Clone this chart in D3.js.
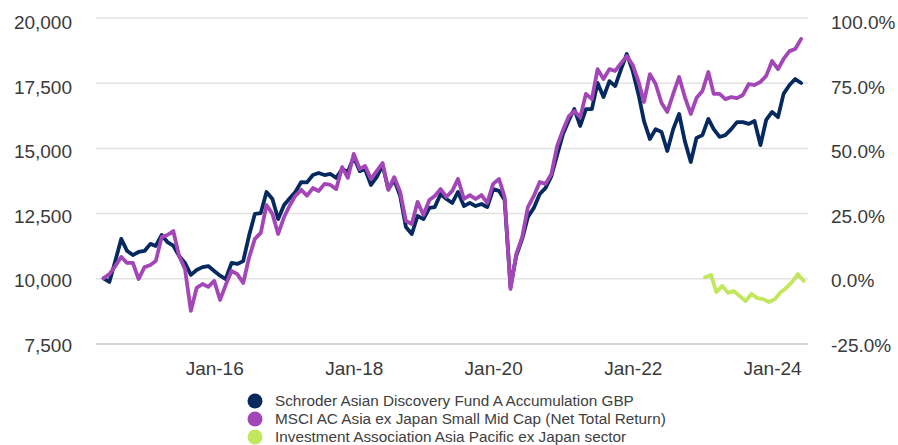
<!DOCTYPE html>
<html lang="en">
<head>
<meta charset="UTF-8">
<title>Performance</title>
<script src="https://cdnjs.cloudflare.com/ajax/libs/d3/7.8.5/d3.min.js"></script>
<style>
    body { margin: 0; background: #fff; }
    svg text { font-family: "Liberation Sans", Arial, sans-serif; }
    .grid line { stroke: #e2e2e2; stroke-width: 1.5px; }
    .axis text { fill: #3a3a3a; font-size: 19px; }
    .legend text { fill: #404040; font-size: 15.3px; }
</style>
</head>
<body>
<svg id="chart" width="898" height="445"></svg>
<script>
// monthly values, first point = June 2014
const startMonth = "2014-06-01";
const fundValues = [
    10000, 9860, 10660, 11510, 11060, 10890, 11010, 11050, 11320, 11240,
    11660, 11390, 11250, 10860, 10590, 10130, 10320, 10430, 10470, 10280,
    10100, 9970, 10590, 10550, 10660, 11620, 12470, 12500, 13310, 13040,
    12270, 12810, 13080, 13310, 13690, 13680, 13960, 14040, 13960, 14000,
    13850, 14190, 14080, 14650, 14110, 14190, 13580, 13880, 14340, 13420,
    13770, 13160, 11970, 11700, 12390, 12270, 12700, 12730, 13230, 13040,
    12890, 13310, 12770, 12890, 12770, 12850, 12730, 13420, 13350, 13000,
    9670, 10860, 11510, 12350, 12700, 13230, 13460, 13920, 14730, 15530,
    16070, 16490, 15840, 16490, 16490, 17490, 16950, 17560, 17370, 18020,
    18600, 17950, 17030, 16030, 15340, 15720, 15610, 14880, 15720, 16300,
    15260, 14460, 15380, 15490, 16110, 15720, 15420, 15490, 15720, 15990,
    15990, 15920, 16030, 15110, 16070, 16380, 16180, 17070, 17410, 17640,
    17490
];
const indexValues = [
    10000, 10160, 10470, 10820, 10590, 10590, 9970, 10430, 10510, 10660,
    11580, 11660, 11810, 10860, 10360, 8750, 9630, 9780, 9670, 9900,
    9170, 9740, 10280, 10160, 9820, 10780, 11510, 11740, 12810, 12470,
    11700, 12350, 12810, 13160, 13390, 13170, 13460, 13350, 13620, 13580,
    13420, 14260, 13850, 14770, 14190, 14310, 13810, 14110, 14420, 13390,
    13880, 13310, 12200, 12080, 12930, 12430, 13000, 13160, 13420, 13120,
    13350, 13810, 13040, 13190, 13040, 13190, 12890, 13620, 13810, 13120,
    9590, 10930, 11580, 12730, 13160, 13690, 13620, 14000, 15070, 15690,
    16220, 16410, 16180, 17070, 16870, 18020, 17640, 18020, 17950, 18250,
    18520, 18180, 17530, 16760, 17830, 17450, 16720, 16380, 17070, 17720,
    16950, 16300, 16910, 17180, 17910, 17070, 17070, 16870, 16950, 16910,
    17030, 17450, 17410, 17530, 17760, 18330, 18020, 18410, 18710, 18790,
    19180
];
// sector, % return (right axis), monthly from mid Jan 2023
const sectorStart = "2023-01-15";
const sectorValues = [
    0.4, 1.3, -5.3, -2.9, -5.6, -4.9, -6.8, -8.7, -6.0, -7.6,
    -8.0, -9.1, -8.0, -5.3, -3.7, -1.4, 1.6, -1.0
];

const leftTicks = [7500, 10000, 12500, 15000, 17500, 20000];
const rightTicks = [-25, 0, 25, 50, 75, 100];
const xTicks = ["2016-01-01", "2018-01-01", "2020-01-01", "2022-01-01", "2024-01-01"];
const seriesNames = [
    "Schroder Asian Discovery Fund A Accumulation GBP",
    "MSCI AC Asia ex Japan Small Mid Cap (Net Total Return)",
    "Investment Association Asia Pacific ex Japan sector"
];
const seriesColors = ["#062a5f", "#a346b8", "#c2e65c"];

const svg = d3.select("#chart");
const margin = { top: 17.5, right: 90, bottom: 101.5, left: 96 };
const width = +svg.attr("width");
const height = +svg.attr("height");
const plotW = width - margin.left - margin.right;
const plotBottom = height - margin.bottom;

const x = d3.scaleUtc()
    .domain([new Date("2014-04-22"), new Date("2024-07-07")])
    .range([margin.left, margin.left + plotW]);
const yLeft = d3.scaleLinear().domain([7500, 20000]).range([plotBottom, margin.top]);
const yRight = d3.scaleLinear().domain([-25, 100]).range([plotBottom, margin.top]);
// tick labels sit a little lower than their gridlines toward the top
const yLeftLabel = yLeft.copy().range([plotBottom + 0.8, margin.top + 4.5]);
const yRightLabel = yRight.copy().range([plotBottom + 0.8, margin.top + 4.5]);

// gridlines
svg.append("g")
    .attr("class", "grid")
    .attr("transform", "translate(" + margin.left + ",0)")
    .call(d3.axisLeft(yLeft).tickValues(leftTicks).tickSize(-plotW).tickFormat(""))
    .call(g => g.select(".domain").remove())
    .call(g => g.selectAll(".tick line").filter(d => d === 7500).style("stroke", "#cdcdcd"));

// left labels
svg.append("g")
    .attr("class", "axis")
    .attr("transform", "translate(72,0)")
    .call(d3.axisLeft(yLeftLabel).tickValues(leftTicks).tickSize(0).tickPadding(0)
        .tickFormat(d3.format(",")))
    .call(g => g.select(".domain").remove())
    .call(g => g.selectAll("text").attr("dy", "0.36em"));

// right labels
svg.append("g")
    .attr("class", "axis")
    .attr("transform", "translate(831,0)")
    .call(d3.axisRight(yRightLabel).tickValues(rightTicks).tickSize(0).tickPadding(0)
        .tickFormat(d => d.toFixed(1) + "%"))
    .call(g => g.select(".domain").remove())
    .call(g => g.selectAll("text").attr("dy", "0.36em"));

// x labels
svg.append("g")
    .attr("class", "axis")
    .attr("transform", "translate(0," + plotBottom + ")")
    .call(d3.axisBottom(x).tickValues(xTicks.map(d => new Date(d)))
        .tickSize(0).tickPadding(0).tickFormat(d3.utcFormat("%b-%y")))
    .call(g => g.select(".domain").remove())
    .call(g => g.selectAll("text").attr("y", 0).attr("dy", "31px"));

function monthly(start, values) {
    const s = new Date(start);
    return values.map((v, i) => ({ date: d3.utcMonth.offset(s, i), value: v }));
}

const fund = monthly(startMonth, fundValues);
const index = monthly(startMonth, indexValues);
const sector = monthly(sectorStart, sectorValues);

const lineLeft = d3.line().x(d => x(d.date)).y(d => yLeft(d.value));
const lineRight = d3.line().x(d => x(d.date)).y(d => yRight(d.value));

const lines = svg.append("g")
    .attr("fill", "none")
    .attr("stroke-width", 3.8)
    .attr("stroke-linejoin", "round")
    .attr("stroke-linecap", "round");

lines.append("path").datum(fund).attr("d", lineLeft).attr("stroke", seriesColors[0]);
lines.append("path").datum(index).attr("d", lineLeft).attr("stroke", seriesColors[1]);
lines.append("path").datum(sector).attr("d", lineRight).attr("stroke", seriesColors[2]);

// legend
const legend = svg.append("g")
    .attr("class", "legend")
    .attr("transform", "translate(255,401)");

const row = legend.selectAll("g")
    .data(seriesNames)
    .join("g")
    .attr("transform", (d, i) => "translate(0," + (i * 18) + ")");

row.append("circle")
    .attr("r", 7.5)
    .attr("fill", (d, i) => seriesColors[i]);

row.append("text")
    .attr("x", 20)
    .attr("dy", "0.35em")
    .text(d => d);
</script>
</body>
</html>
